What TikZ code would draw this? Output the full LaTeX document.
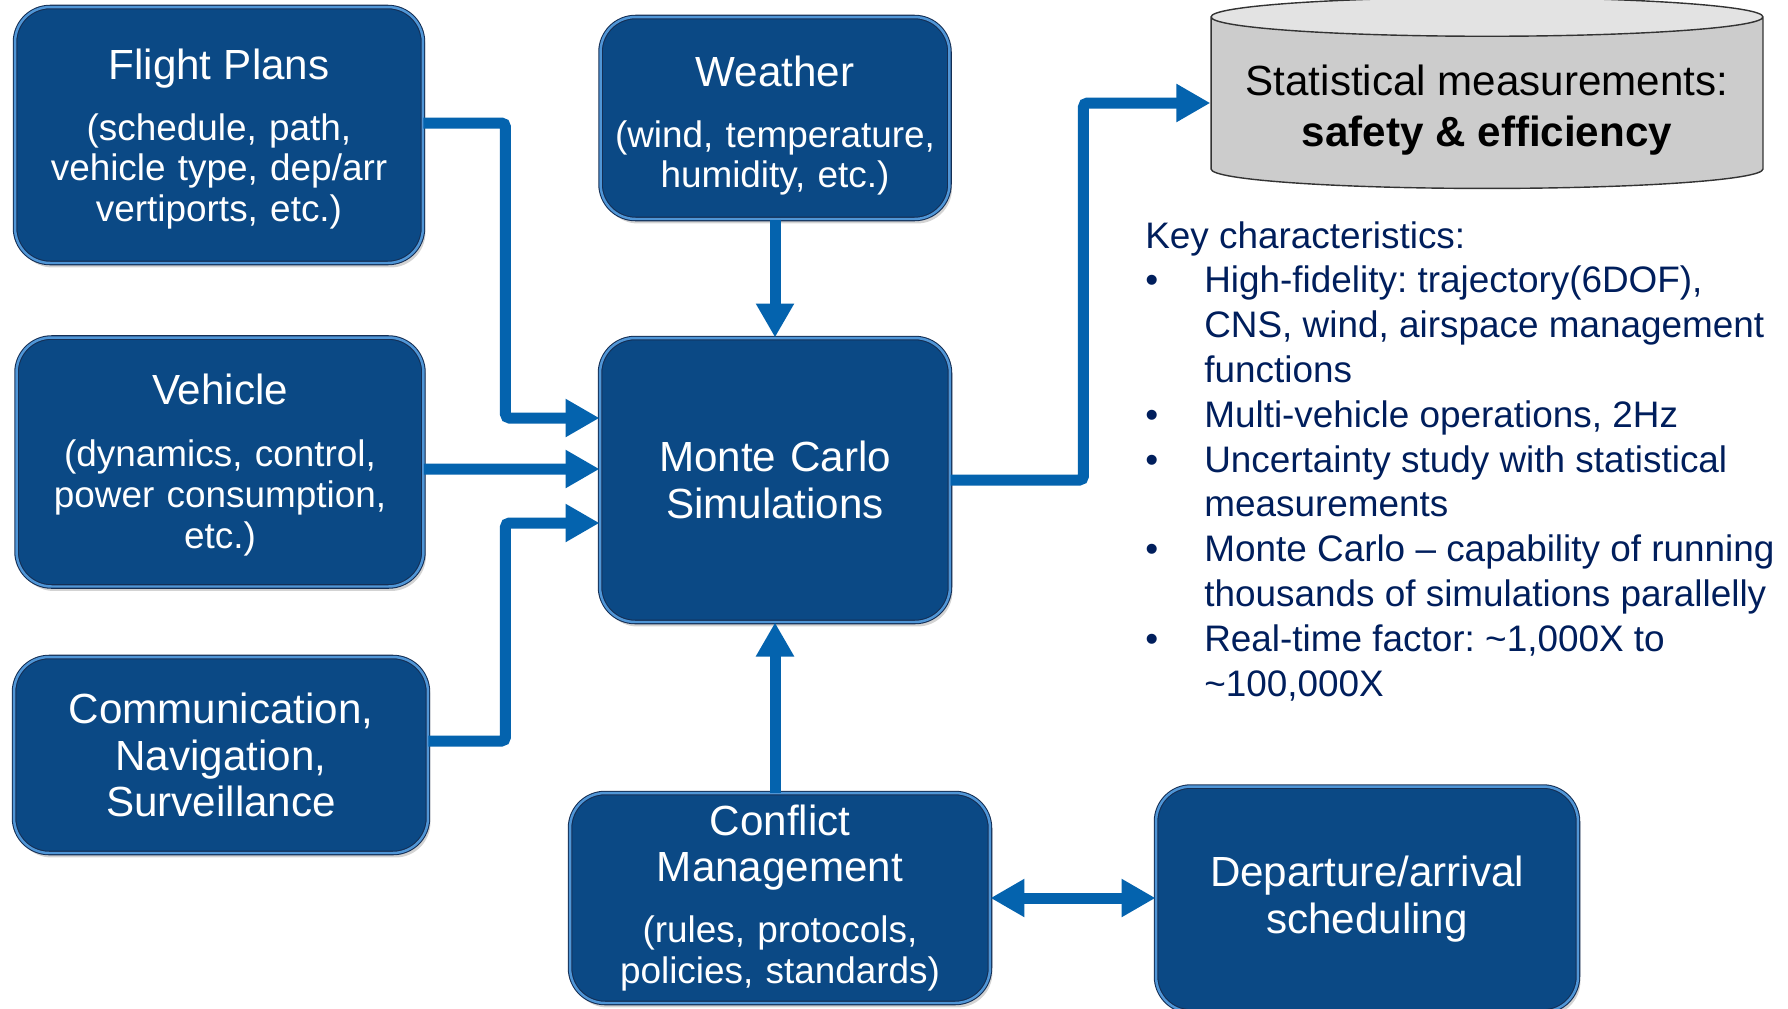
\documentclass[tikz,border=0pt]{standalone}
\usepackage{fontspec}
\setmainfont{Liberation Sans}
\usetikzlibrary{positioning,arrows.meta,calc,shapes.geometric,shadows}
\definecolor{boxblue}{RGB}{11,73,133}
\definecolor{boxrim}{RGB}{80,150,215}
\definecolor{boxedge}{RGB}{20,46,84}
\definecolor{linkblue}{RGB}{4,99,174}
\definecolor{keytxt}{RGB}{0,30,92}
\definecolor{drumgray}{RGB}{204,204,204}
\newcommand{\ttltxt}{\fontsize{24}{26.7}\selectfont}
\newcommand{\subtxt}{\fontsize{21}{23.3}\selectfont}
\newcommand{\kbul}{\makebox[1.18cm][l]{\textbullet}}
\newcommand{\kind}{\hspace*{1.18cm}}

\begin{document}
\frenchspacing
\begin{tikzpicture}[
  x=0.02cm, y=-0.02cm,
  every node/.style={font=\ttltxt},
  %% input / process block — dark blue with light rim
  blk/.style={
    draw=boxedge, line width=0.6pt,
    double=boxrim, double distance=1.4pt,
    fill=boxblue, text=white,
    rounded corners=0.7cm,
    align=center, inner sep=0pt,
    drop shadow={opacity=0.35, shadow xshift=0.05cm, shadow yshift=-0.09cm}
  },
  %% block with a title and a smaller note
  nblk/.style={blk, font=\subtxt},
  %% output drum — grey cylinder
  drum/.style={
    cylinder, shape border rotate=90, aspect=0.08,
    draw=black!80, thick,
    cylinder uses custom fill,
    cylinder body fill=drumgray, cylinder end fill=drumgray!55,
    inner sep=0pt,
    minimum width=11.04cm, minimum height=3.82cm
  },
  %% key characteristics list
  klist/.style={
    font=\fontsize{21}{25.5}\selectfont, text=keytxt,
    align=left, inner sep=0pt
  },
  %% thick connectors
  arr/.style={
    -{Triangle[length=0.68cm,width=0.72cm]},
    line width=0.22cm, linkblue, rounded corners=0.08cm
  },
  dbl/.style={
    {Triangle[length=0.68cm,width=0.72cm]}-{Triangle[length=0.68cm,width=0.72cm]},
    line width=0.22cm, linkblue
  },
]
\useasboundingbox (0,0) rectangle (1788,1008);

%%── Input blocks on the left ─────────────────────────────────────────────────
\node[nblk, minimum width=8.16cm, minimum height=5.12cm, text width=7.8cm] (fp) at (219,135)
  {{\ttltxt\rule{0pt}{22pt}Flight Plans}\\[0.4cm]
   (schedule, path,\\ vehicle type, dep/arr\\ vertiports, etc.)};

\node[nblk, minimum width=8.14cm, minimum height=4.98cm, text width=7.8cm] (veh) at (220,462)
  {{\ttltxt\rule{0pt}{21pt}Vehicle}\\[0.42cm]
   (dynamics, control,\\ power consumption,\\ etc.)};

\node[blk, minimum width=8.28cm, minimum height=3.92cm, text width=7.9cm] (cns) at (221,755)
  {Communication,\\ Navigation,\\ Surveillance};

%%── Weather and core simulation ──────────────────────────────────────────────
\node[nblk, minimum width=6.98cm, minimum height=4.04cm, text width=6.9cm] (wth) at (775,118)
  {{\ttltxt\rule{0pt}{26pt}Weather}\\[0.4cm]
   (wind, temperature,\\ humidity, etc.)};

\node[blk, minimum width=7.0cm, minimum height=5.68cm, text width=6.6cm] (mc) at (775,480)
  {Monte Carlo\\ Simulations};

%%── Lower blocks ─────────────────────────────────────────────────────────────
\node[nblk, minimum width=8.4cm, minimum height=4.2cm, text width=8.1cm] (cm) at (780,898)
  {{\ttltxt Conflict}\\[2.9pt] {\ttltxt Management}\\[0.42cm]
   (rules, protocols,\\ policies, standards)};

\node[blk, minimum width=8.44cm, minimum height=4.5cm, text width=8.1cm] (dep) at (1367,899)
  {Departure/arrival\\ scheduling};

%%── Output drum and notes ────────────────────────────────────────────────────
\node[drum] (stat) at (1487,103) {\hspace*{9.7cm}};
\node[align=center, inner sep=0pt] (statlbl) at (1487,110)
  {Statistical measurements:\\[2.5pt] \textbf{safety \& efficiency}};

\node[klist, anchor=north west] (keys) at (1145,221)
  {Key characteristics:\\
   \kbul High-fidelity: trajectory(6DOF),\\
   \kind CNS, wind, airspace management\\
   \kind functions\\
   \kbul Multi-vehicle operations, 2Hz\\
   \kbul Uncertainty study with statistical\\
   \kind measurements\\
   \kbul Monte Carlo -- capability of running\\
   \kind thousands of simulations parallelly\\
   \kbul Real-time factor: \textasciitilde1,000X to\\
   \kind \textasciitilde100,000X};

%%── Connectors ───────────────────────────────────────────────────────────────
\draw[arr] ([yshift=0.24cm]fp.east) -- ++(1.64cm,0) |- ([yshift=1.24cm]mc.west);
\draw[arr] ([yshift=-0.14cm]veh.east) -- ([yshift=0.22cm]mc.west);
\draw[arr] ([yshift=0.28cm]cns.east) -- ++(1.54cm,0) |- ([yshift=-0.86cm]mc.west);
\draw[arr] (wth) -- (mc);
\draw[arr] (mc.south |- cm.north) -- (mc.south);
\draw[arr] (mc.east) -- ++(2.66cm,0) |- (stat.west);
\draw[dbl] (cm.east) -- (cm.east -| dep.west);

\end{tikzpicture}
\end{document}
